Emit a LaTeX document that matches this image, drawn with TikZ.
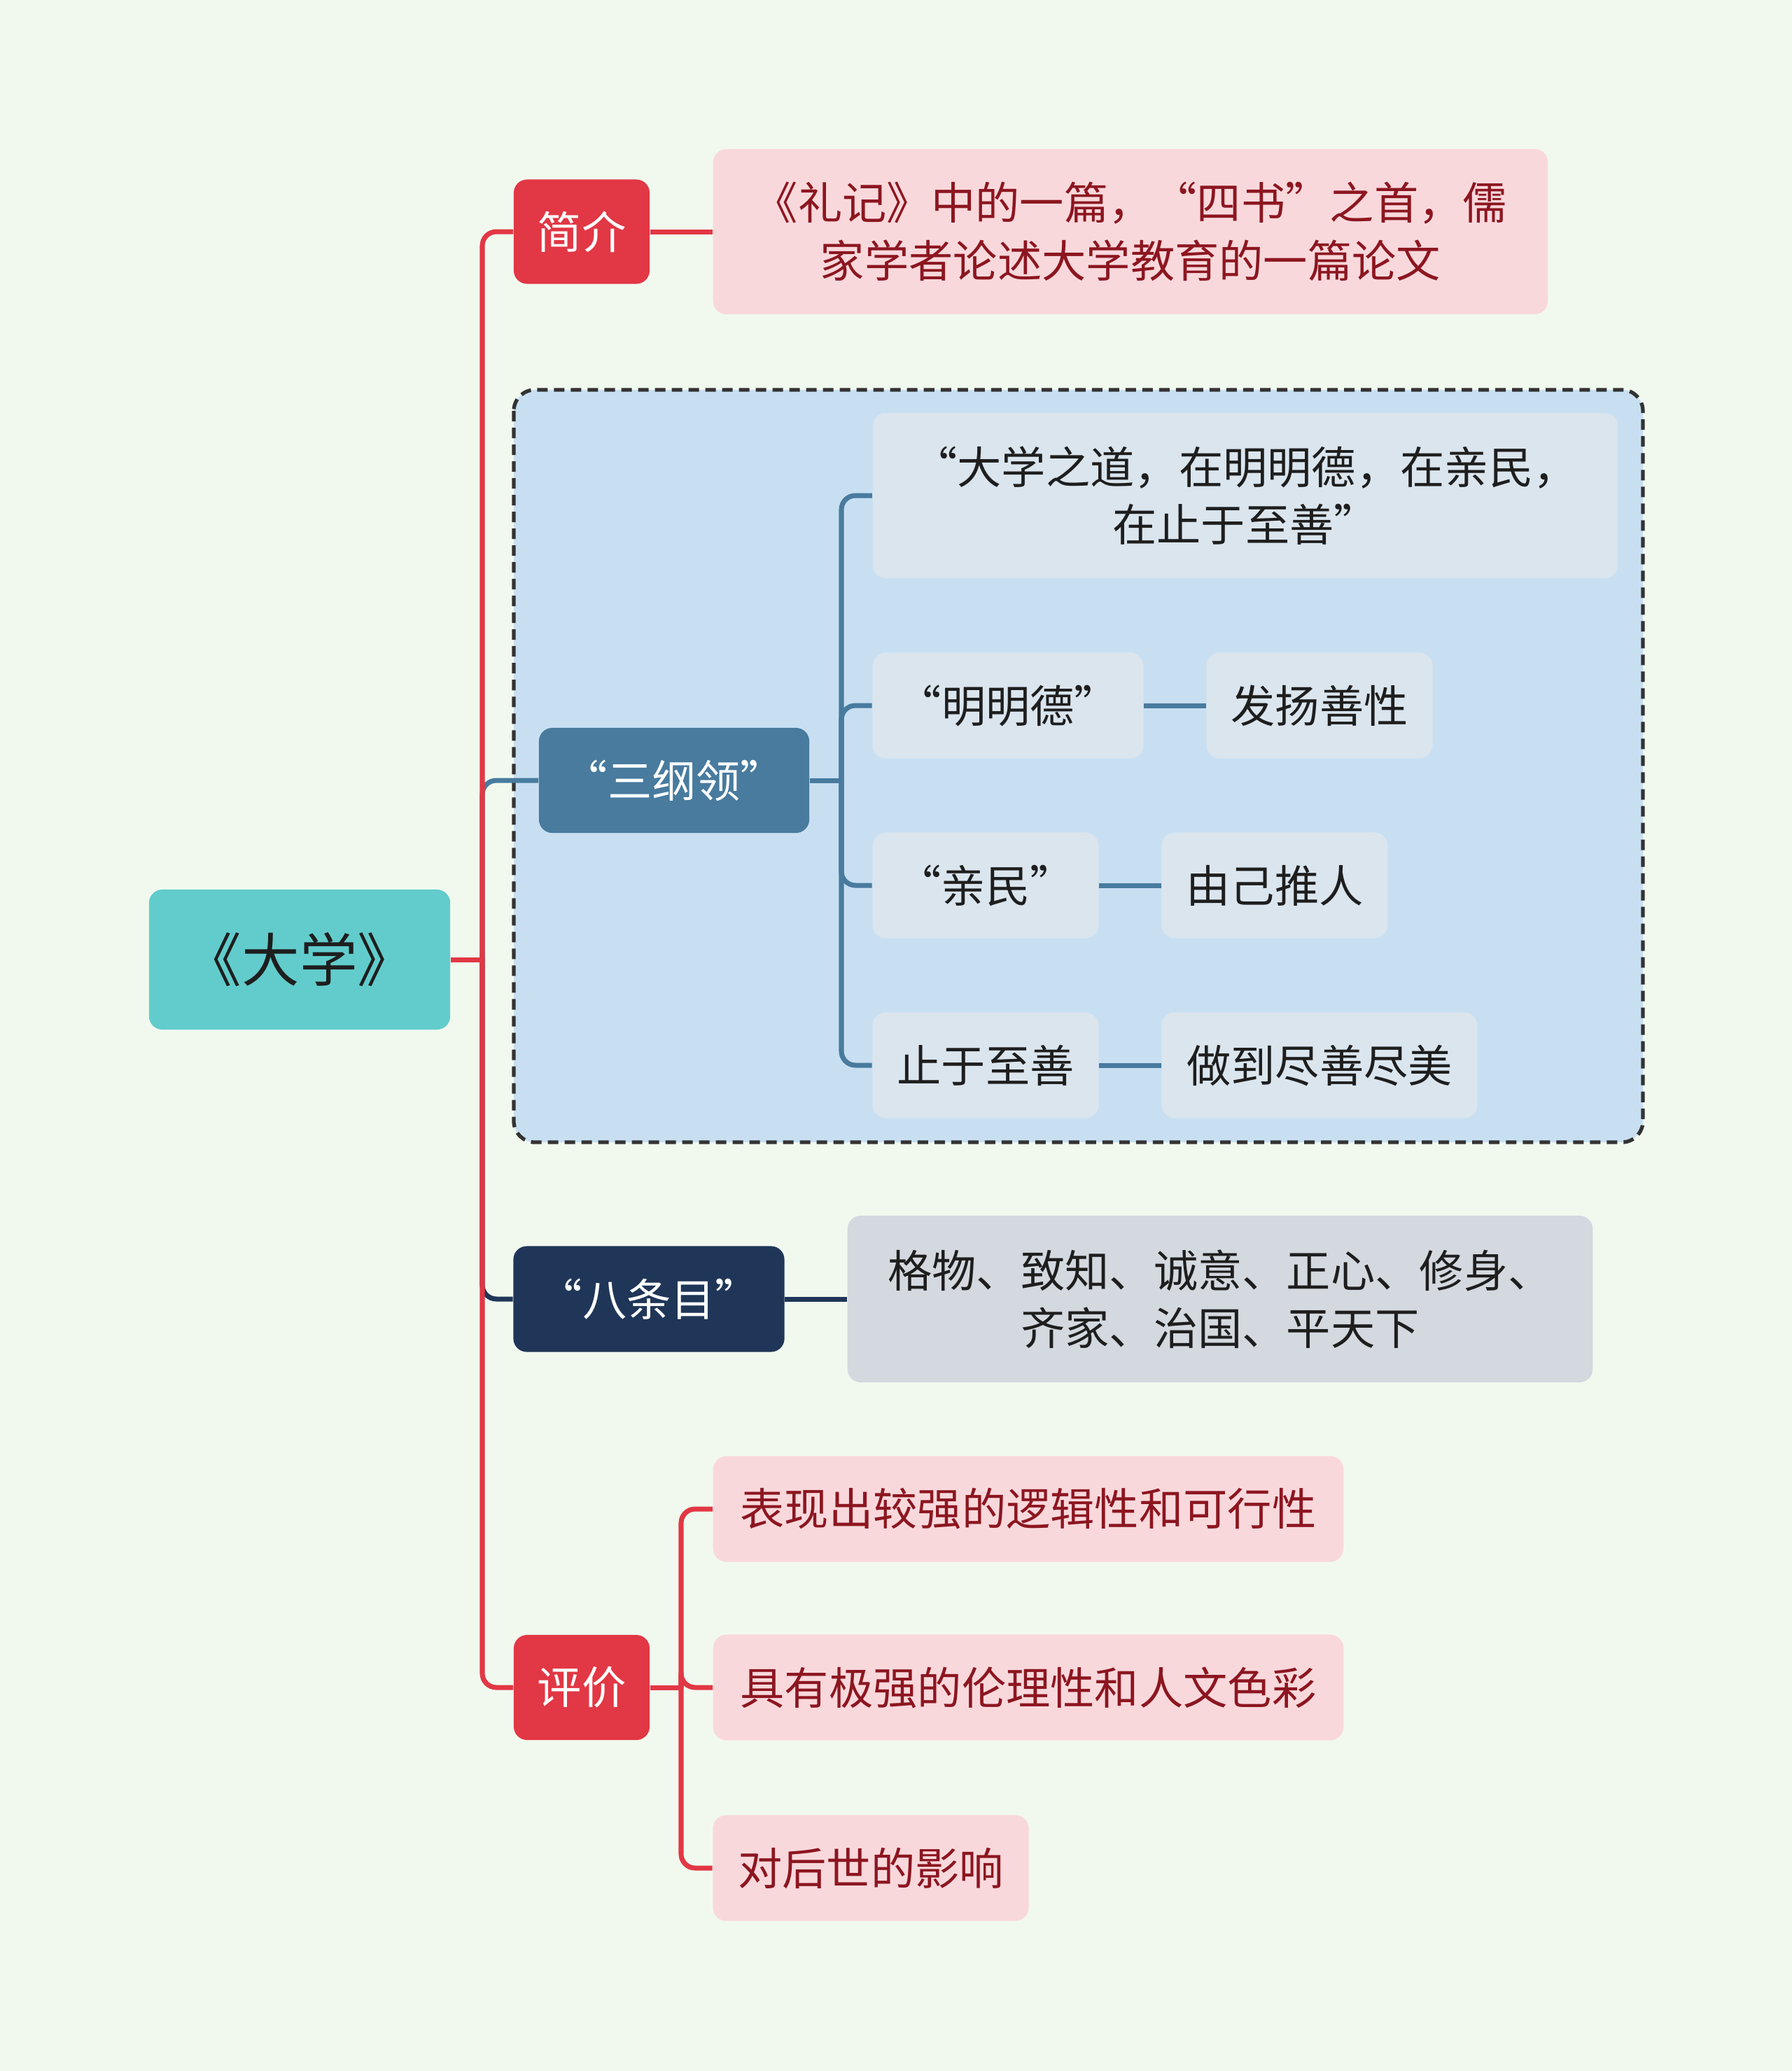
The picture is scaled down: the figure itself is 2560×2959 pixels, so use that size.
\documentclass[tikz,border=0pt]{standalone}
\usepackage{fontspec}
\newfontfamily\cjk{Noto Sans CJK SC}
\definecolor{bgc}{HTML}{F1F9EF}
\definecolor{redc}{HTML}{E23744}
\definecolor{pinkc}{HTML}{F9D8DC}
\definecolor{redtxt}{HTML}{8C1620}
\definecolor{tealc}{HTML}{62CCCC}
\definecolor{bluec}{HTML}{487B9E}
\definecolor{navyc}{HTML}{1F3658}
\definecolor{boxc}{HTML}{C8DFF2}
\definecolor{leafc}{HTML}{DAE5EE}
\definecolor{greyc}{HTML}{D4D8DF}
\definecolor{darktxt}{HTML}{1E1E1E}
\tikzset{
  box/.style={rounded corners=0.19cm, inner sep=0pt, align=center,
    font=\cjk\fontsize{18}{23.5}\selectfont},
  redbox/.style={box, fill=redc, text=white},
  pinkbox/.style={box, fill=pinkc, text=redtxt},
  leafbox/.style={box, fill=leafc, text=darktxt},
  link/.style={line width=2pt, rounded corners=0.2cm},
}
\begin{document}
\begin{tikzpicture}[x=0.01cm, y=-0.01cm]
	\useasboundingbox[fill=bgc] (0,0) rectangle (2560,2959);
	% Root
	\node[box, fill=tealc, text=darktxt, minimum width=4.30cm, minimum height=2.00cm,
	  font=\cjk\fontsize{23.5}{26}\selectfont] (root) at (428,1371) {《大学》};
	\coordinate (trunk) at (689,1371);
	% Sangangling group
	\draw[fill=boxc, draw=black!80, line width=1.5pt, dash pattern=on 0.15cm off 0.09cm,
	  rounded corners=0.3cm] (734,557) rectangle (2347,1632);
	\node[box, fill=bluec, text=white, minimum width=3.86cm, minimum height=1.50cm] (sgl) at (963,1115) {“三纲领”};
	\node[leafbox, minimum width=10.64cm, minimum height=2.36cm] (dxzd) at (1779,708) {“大学之道，在明明德，在亲民，\\在止于至善”};
	\node[leafbox, minimum width=3.87cm, minimum height=1.51cm] (mmd) at (1440,1008) {“明明德”};
	\node[leafbox, minimum width=3.23cm, minimum height=1.51cm] (fysx) at (1885,1008) {发扬善性};
	\node[leafbox, minimum width=3.23cm, minimum height=1.51cm] (qm) at (1408,1265) {“亲民”};
	\node[leafbox, minimum width=3.23cm, minimum height=1.51cm] (yjtr) at (1821,1265) {由己推人};
	\node[leafbox, minimum width=3.23cm, minimum height=1.51cm] (zyzs) at (1408,1522) {止于至善};
	\node[leafbox, minimum width=4.51cm, minimum height=1.51cm] (zdjs) at (1885,1522) {做到尽善尽美};
	% Jianjie
	\node[redbox, minimum width=1.94cm, minimum height=1.49cm] (jj) at (831,331) {简介};
	\node[pinkbox, minimum width=11.92cm, minimum height=2.36cm] (jjtxt) at (1615,331) {《礼记》中的一篇，“四书”之首，儒\\家学者论述大学教育的一篇论文};
	% Batiaomu
	\node[box, fill=navyc, text=white, minimum width=3.87cm, minimum height=1.51cm] (bty) at (927,1856) {“八条目”};
	\node[box, fill=greyc, text=darktxt, minimum width=10.64cm, minimum height=2.38cm] (btytxt) at (1743,1856) {格物、致知、诚意、正心、修身、\\齐家、治国、平天下};
	% Pingjia
	\node[redbox, minimum width=1.94cm, minimum height=1.50cm] (pj) at (831,2411) {评价};
	\node[pinkbox, minimum width=9.00cm, minimum height=1.51cm] (pja) at (1469,2156) {表现出较强的逻辑性和可行性};
	\node[pinkbox, minimum width=9.00cm, minimum height=1.51cm] (pjb) at (1469,2411) {具有极强的伦理性和人文色彩};
	\node[pinkbox, minimum width=4.51cm, minimum height=1.51cm] (pjc) at (1244,2669) {对后世的影响};
	% links
	\draw[link, bluec] (trunk) |- (sgl.west);
	\draw[link, navyc] (trunk) |- (bty.west);
	\draw[link, redc] (trunk) |- (jj.west);
	\draw[link, redc] (trunk) |- (pj.west);
	\draw[link, redc] (root.east) -- (trunk);
	\draw[link, redc] (jj) -- (jjtxt);
	\draw[link, navyc] (bty) -- (btytxt);
	\coordinate (sglfork) at (1202,1115);
	\draw[link, bluec] (sgl.east) -- (sglfork);
	\foreach \n in {dxzd,mmd,qm,zyzs}
	  \draw[link, bluec] (sglfork) |- (\n.west);
	\draw[link, bluec] (mmd) -- (fysx);
	\draw[link, bluec] (qm) -- (yjtr);
	\draw[link, bluec] (zyzs) -- (zdjs);
	\coordinate (pjfork) at (973,2411);
	\draw[link, redc] (pj.east) -- (pjfork);
	\foreach \n in {pja,pjb,pjc}
	  \draw[link, redc] (pjfork) |- (\n.west);
\end{tikzpicture}
\end{document}
